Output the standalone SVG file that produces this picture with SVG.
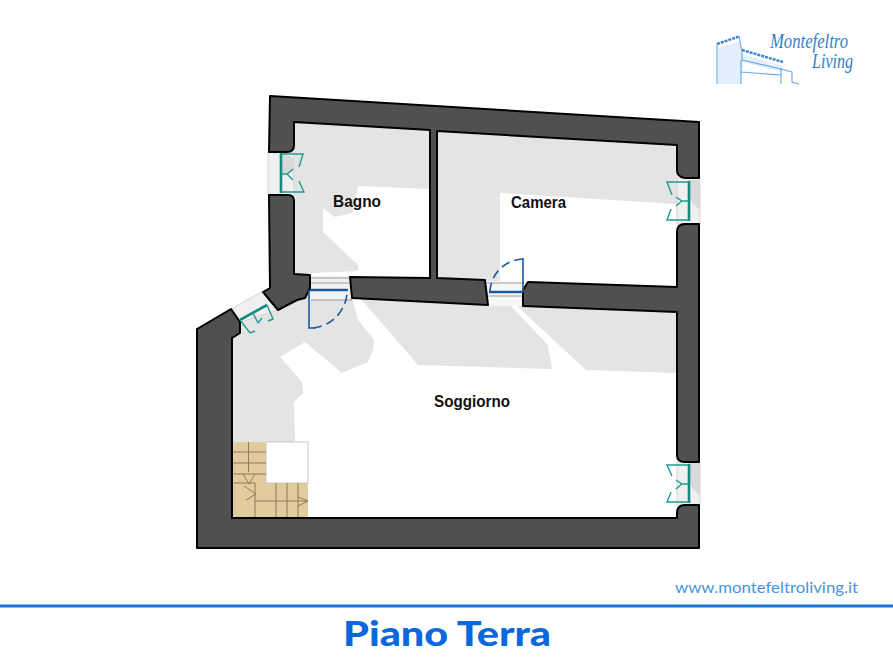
<svg xmlns="http://www.w3.org/2000/svg" width="893" height="670" viewBox="0 0 893 670">
<style>
.wall{fill:#505050;stroke:#000;stroke-width:2;stroke-linejoin:round}
.shade{fill:#e4e4e4}
.gap{fill:#f0f0f0;stroke:#d4d4d4;stroke-width:1}
.gap2{fill:#d9d9d9}
.sill{stroke:#9a9a9a;stroke-width:1;fill:none}
.teal{fill:none;stroke:#1f9a8c;stroke-width:1.400}
.tealb{fill:none;stroke:#178a80;stroke-width:2.600}
.blue{fill:none;stroke:#1c5aa0;stroke-width:1.600}
.blueb{fill:none;stroke:#1c5aa0;stroke-width:2.600}
.dash{fill:none;stroke:#1c5aa0;stroke-width:1.600;stroke-dasharray:9 5}
.stair{fill:none;stroke:#8f7a52;stroke-width:1}
.room{font-family:"Liberation Sans",Arial,sans-serif;font-weight:700;font-size:16.500px;fill:#111}
.logo{font-family:"Liberation Serif",serif;font-style:italic;fill:#2f7fd0}
.lg{fill:none;stroke:#6aa9e4;stroke-width:1.100}
</style>
<rect width="893" height="670" fill="#fff"/>
<g id="shadows">
<polygon class="shade" points="294,122 430,130 430,189 358,186 352,213 335,217 323,208 323,232 358,265 358,271 294,274"/>
<polygon class="shade" points="437,131 677,145 677,204 500,193 500,282 437,278"/>
<polygon class="shade" points="360,298 510,305 548,345 552,369 418,365"/>
<polygon class="shade" points="516,305 677,312 677,373 586,370"/>
<polygon class="shade" points="232,338 240,322 267,305 310,290 352,298 358,320 374,340 373,350 368,362 342,373 305,342 280,357 302,382 303,393 294,402 295,442 232,442"/>
</g>
<g id="stairs">
<polygon points="232,442 266,442 266,483 308,483 308,518 232,518" fill="#e2cb9f"/>
<rect x="266" y="442" width="42" height="41" fill="#fff" stroke="#c8c8c8"/>
<path class="stair" d="M248.500 442V472M232 452H266M232 463H266M232 474H266M255 483V518M276 483V518M287 483V518M298 483V518M255 501H308M243 474L249 484L255 474M244 486L256 494L246 500M298 497L308 501L298 506M233 483H255"/>
</g>
<g id="windows">
<rect class="gap" x="268" y="152" width="26" height="43"/>
<polygon class="gap2" points="281,153 294,158 294,172 281,175"/>
<rect class="gap" x="677" y="178" width="23" height="46"/>
<polygon class="gap2" points="689,180 700,180 700,210 689,200"/>
<rect class="gap" x="677" y="462" width="23" height="43"/>
<polygon class="gap2" points="689,463 700,463 700,497 689,484"/>
<polygon class="gap" points="231,309 263,291 278,310 241,322"/>
<rect x="310" y="276" width="40" height="24" fill="#f2f2f2"/>
<rect x="487" y="281" width="37" height="25" fill="#f7f7f7"/>
<path class="sill" d="M310 278H349M310 283H349M311 300H352M487 283H524M488 296H524"/>
</g>
<g id="walls">
<path class="wall" d="M270 96L699 122V178H685Q677 177 677 170V145L437 131V278L485 280L488 305L352 298L350 277L430 278V130L294 122V145Q294 152 287 152H269Z"/>
<path class="wall" d="M269 195H288Q294 195 294 201V274L310 275V288L305 298L297 300L278 310L263 292L270 288Z"/>
<path class="wall" d="M699 224H685Q677 224 677 232V287L528 282L523 290V306L677 312V455Q677 462 685 462H699Z"/>
<path class="wall" d="M699 505H685Q677 505 677 513V518H232V338L240 333V322L231 309L197 329V548H699Z"/>
</g>
<g id="doors">
<path class="blueb" d="M310 290H348"/>
<path class="blue" d="M315 328H309V290"/>
<path class="dash" d="M313 328A38 38 0 0 0 347 294"/>
<path class="blueb" d="M489 292H523"/>
<path class="blue" d="M523 292V258"/>
<path class="dash" d="M523 259A34 34 0 0 0 490 291"/>
</g>
<g id="casements">
<path class="tealb" d="M281 153V193"/>
<path class="teal" d="M281 154H303L299 167M281 174H287L293 169M287 174L293 180M281 192H304L299 181"/>
<path class="tealb" d="M689 181V221"/>
<path class="teal" d="M689 182H667L672 195M689 201H682L676 197M682 201L676 206M689 220H667L671 209"/>
<path class="tealb" d="M689 464V503"/>
<path class="teal" d="M689 465H667L672 476M689 484H682L676 480M682 484L676 489M689 502H667L671 492"/>
<path class="tealb" d="M240 320L267 305"/>
<path class="teal" d="M240 320L250 333L255 331M253 313L258 323M258 323L262 318M267 305L273 319L268 321"/>
</g>
<g id="labels">
<text class="room" x="333" y="207" textLength="48" lengthAdjust="spacingAndGlyphs">Bagno</text>
<text class="room" x="511" y="208" textLength="55" lengthAdjust="spacingAndGlyphs">Camera</text>
<text class="room" x="434" y="407" textLength="76" lengthAdjust="spacingAndGlyphs">Soggiorno</text>
</g>
<g id="logo">
<polygon points="718,48 740,41 742,54 782,66 782,72 743,62 741,84 718,84" fill="#e3effb"/>
<path d="M717 44L739 36.500M742 50L783 62" fill="none" stroke="#3a86d6" stroke-width="2.500" stroke-dasharray="3 1"/>
<path class="lg" d="M717 44V84M739 36L742 52V60L781 69L792 72V82L799 84M741 60V84M781 68V84M741 72L781 75"/>
<text class="logo" x="770" y="48" font-size="20" textLength="78" lengthAdjust="spacingAndGlyphs">Montefeltro</text>
<text class="logo" x="812" y="68" font-size="20" textLength="41" lengthAdjust="spacingAndGlyphs">Living</text>
</g>
<g id="footer">
<text x="675" y="593" font-family="Lato,sans-serif" font-size="15.500" fill="#4a94de" textLength="183" lengthAdjust="spacingAndGlyphs">www.montefeltroliving.it</text>
<rect x="0" y="604.500" width="893" height="3" fill="#1976d2"/>
<text x="343" y="646" font-family="Lato,sans-serif" font-weight="900" font-size="35" fill="#0a68dc" textLength="208" lengthAdjust="spacingAndGlyphs">Piano Terra</text>
</g>
</svg>
